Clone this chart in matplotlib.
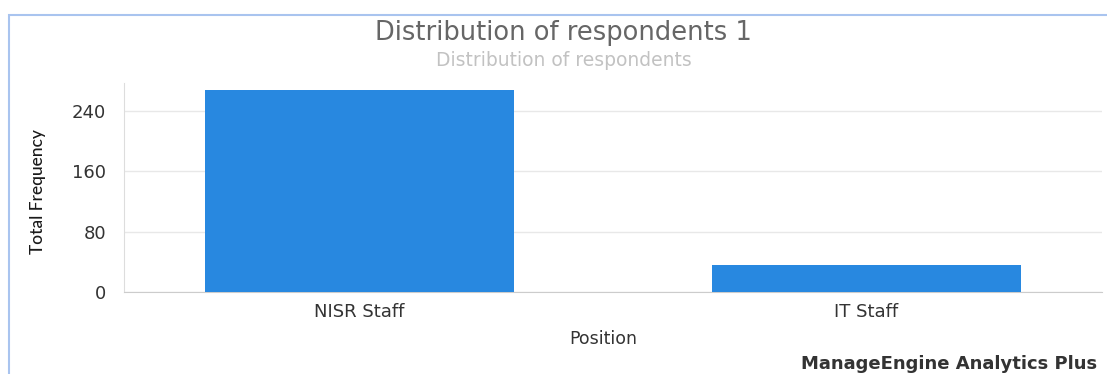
import numpy as np
import matplotlib.pyplot as plt
from matplotlib.patches import Rectangle

positions = ["NISR Staff", "IT Staff"]
frequency = [268, 36]
yticks = [0, 80, 160, 240]

plt.rcParams['font.family'] = ['DejaVu Sans']

W, H = 1107, 374
fig = plt.figure(figsize=(W / 100, H / 100), dpi=100)
ax = fig.add_axes([124 / W, 1 - 292 / H, (1102 - 124) / W, (292 - 83) / H])

x = np.arange(len(positions))
ax.bar(x, frequency, width=0.61, color='#2888e0', zorder=3)
ax.set_xlim(-0.465, 1.465)
ax.set_ylim(0, 277)
ax.set_yticks(yticks)
ax.set_xticks(x, positions)
ax.tick_params(axis='both', length=0, labelsize=13, colors='#333333')
ax.tick_params(axis='y', pad=13)
ax.tick_params(axis='x', pad=8)
ax.grid(axis='y', color='#e8e8e8', linewidth=1, zorder=0)
for s in ['top', 'right']:
    ax.spines[s].set_visible(False)
ax.spines['left'].set_color('#dddddd')
ax.spines['bottom'].set_color('#cccccc')
ax.set_xlabel('Position', fontsize=12.5, color='#333333')
ax.xaxis.set_label_coords((603 - 124) / (1102 - 124), -(339 - 292) / (292 - 83))
ax.xaxis.label.set_va('center')

fig.text(38 / W, 1 - 192 / H, 'Total Frequency', rotation=90, ha='center', va='center',
         fontsize=12.5, color='#1a1a1a', fontweight='medium', family=['Lato', 'DejaVu Sans'])

fig.text(563 / W, 1 - 33 / H, 'Distribution of respondents 1', ha='center', va='center',
         fontsize=18.5, color='#666666')
fig.text(564 / W, 1 - 61 / H, 'Distribution of respondents', ha='center', va='center',
         fontsize=13.5, color='#c2c2c2')
fig.text(1097 / W, 1 - 364 / H, 'ManageEngine Analytics Plus', ha='right', va='center',
         fontsize=13, color='#333333', fontweight='bold')

# light blue frame around the chart area
fig.add_artist(Rectangle((9 / W, -0.1), 2, 1 - 15 / H + 0.1, transform=fig.transFigure,
                         fill=False, edgecolor='#a9c4ef', linewidth=1.5))

fig.savefig('out.png', dpi=100)
